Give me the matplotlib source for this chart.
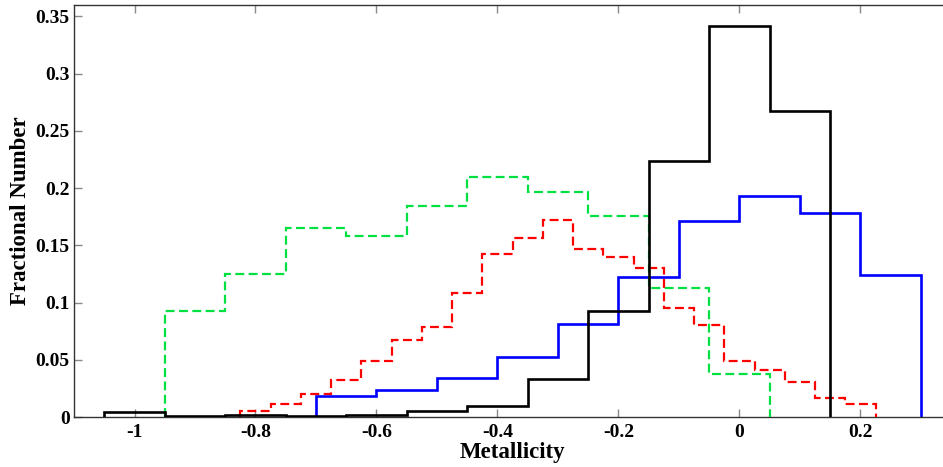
import numpy as np
import matplotlib
matplotlib.use("Agg")
import matplotlib.pyplot as plt
from matplotlib.ticker import FuncFormatter

plt.rcParams['font.family'] = ['Liberation Serif', 'DejaVu Serif']
plt.rcParams['axes.unicode_minus'] = False

# Black histogram (solid)
black_edges = [-1.05, -0.95, -0.85, -0.75, -0.65, -0.55, -0.45, -0.35, -0.25, -0.15, -0.05, 0.05, 0.15]
black_vals = [0.004, 0.001, 0.002, 0.001, 0.002, 0.005, 0.010, 0.033, 0.093, 0.224, 0.342, 0.267]

# Blue histogram (solid)
blue_edges = [-0.7, -0.6, -0.5, -0.4, -0.3, -0.2, -0.1, 0.0, 0.1, 0.2, 0.3]
blue_vals = [0.018, 0.024, 0.034, 0.052, 0.081, 0.122, 0.171, 0.193, 0.178, 0.124]

# Green histogram (dashed)
green_edges = [-0.95, -0.85, -0.75, -0.65, -0.55, -0.45, -0.35, -0.25, -0.15, -0.05, 0.05]
green_vals = [0.093, 0.125, 0.165, 0.158, 0.184, 0.210, 0.197, 0.176, 0.113, 0.038]

# Red histogram (dashed)
red_edges = [-0.825, -0.775, -0.725, -0.675, -0.625, -0.575, -0.525, -0.475, -0.425, -0.375, -0.325,
             -0.275, -0.225, -0.175, -0.125, -0.075, -0.025, 0.025, 0.075, 0.125, 0.175, 0.225]
red_vals = [0.005, 0.011, 0.020, 0.032, 0.049, 0.067, 0.079, 0.108, 0.142, 0.156, 0.172,
            0.147, 0.140, 0.130, 0.095, 0.080, 0.049, 0.041, 0.031, 0.017, 0.011]

xticks = [-1, -0.8, -0.6, -0.4, -0.2, 0, 0.2]
yticks = [0, 0.05, 0.1, 0.15, 0.2, 0.25, 0.3, 0.35]

W, H = 943, 467
fig = plt.figure(figsize=(W / 100, H / 100), dpi=100)
left_px, right_px, top_px, bottom_px = 74, 951.25, 5, 417
ax = fig.add_axes([left_px / W, (H - bottom_px) / H, (right_px - left_px) / W, (bottom_px - top_px) / H])

ax.stairs(blue_vals, blue_edges, baseline=0, color='#0000ff', lw=1.9, zorder=2)
ax.stairs(green_vals, green_edges, baseline=0, color='#00e040', lw=1.6, ls=(0, (4, 2)), zorder=3)
ax.stairs(red_vals, red_edges, baseline=0, color='#ff0000', lw=1.6, ls=(0, (4, 2)), zorder=4)
ax.stairs(black_vals, black_edges, baseline=0, color='black', lw=1.9, zorder=5)

ax.set_xlim(-1.1, 0.35)
ax.set_ylim(0, 0.36)
ax.set_xticks(xticks)
ax.set_yticks(yticks)
fmt = FuncFormatter(lambda v, p: '%g' % v)
ax.xaxis.set_major_formatter(fmt)
ax.yaxis.set_major_formatter(fmt)
ax.tick_params(direction='in', length=6, width=1, color='#888888', top=True, right=True,
               labelsize=14, pad=3)
ax.tick_params(axis='x', pad=5)
for lab in ax.get_xticklabels() + ax.get_yticklabels():
    lab.set_fontweight('bold')
for sp in ax.spines.values():
    sp.set_color('#333333')
    sp.set_linewidth(1.0)

ax.set_xlabel('Metallicity', fontsize=16.5, fontweight='bold', labelpad=1)
ax.set_ylabel('Fractional Number', fontsize=16.5, fontweight='bold', labelpad=3)

fig.savefig('out.png', dpi=100)
